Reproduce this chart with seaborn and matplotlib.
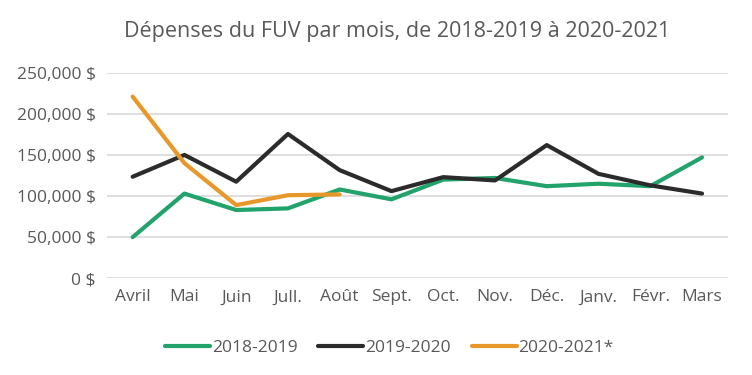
import pandas as pd
import matplotlib.pyplot as plt
import seaborn as sns

# Monthly values (in $)
months = ['Avril', 'Mai', 'Juin', 'Jull.', 'Août', 'Sept.', 'Oct.', 'Nov.',
          'Déc.', 'Janv.', 'Févr.', 'Mars']
s_2018_2019 = [50000, 103000, 83000, 85000, 108000, 96000, 120000, 122000,
               112000, 115000, 112000, 147000]
s_2019_2020 = [123500, 150000, 117500, 175500, 131500, 106000, 123000, 119000,
               162000, 127000, 113000, 103000]
s_2020_2021 = [221000, 140000, 89000, 101000, 102000]
series_names = ['2018-2019', '2019-2020', '2020-2021*']
colors = ['#21a36b', '#2b2b2b', '#e8982a']

rows = []
for name, vals in zip(series_names, [s_2018_2019, s_2019_2020, s_2020_2021]):
    for m, v in zip(months, vals):
        rows.append({'Mois': m, 'Dépenses': v, 'Série': name})
df = pd.DataFrame(rows)

sns.set_theme(style='white')
plt.rcParams['font.family'] = ['Open Sans', 'DejaVu Sans']
text_color = '#595959'

fig = plt.figure(figsize=(7.52, 3.75), dpi=100)
ax = fig.add_axes([0.142, 0.258, 0.826, 0.548])

sns.lineplot(data=df, x='Mois', y='Dépenses', hue='Série', palette=colors,
             linewidth=3, sort=False, ax=ax)

ax.set_ylim(0, 250000)
ax.set_xlim(-0.5, len(months) - 0.5)
ax.set_yticks(range(0, 250001, 50000))
ax.set_yticklabels([f'{v:,} $' for v in range(0, 250001, 50000)])
ax.yaxis.grid(True, color='#d9d9d9', linewidth=1.2)
ax.set_axisbelow(True)
for sp in ax.spines.values():
    sp.set_visible(False)
ax.tick_params(axis='both', length=0, labelsize=12.5, colors=text_color)
ax.tick_params(axis='x', pad=8)
ax.tick_params(axis='y', pad=8)
ax.set_xlabel('')
ax.set_ylabel('')

fig.text(0.528, 0.915, 'Dépenses du FUV par mois, de 2018-2019 à 2020-2021',
         ha='center', va='center', fontsize=15.5, color=text_color)

leg = ax.legend(loc='upper center', bbox_to_anchor=(0.455, -0.225), ncol=3,
                frameon=False, fontsize=12.5, handlelength=2.6,
                handletextpad=0.1, columnspacing=1.2)
for t in leg.get_texts():
    t.set_color(text_color)

fig.savefig('out.png', dpi=100, facecolor='white')
